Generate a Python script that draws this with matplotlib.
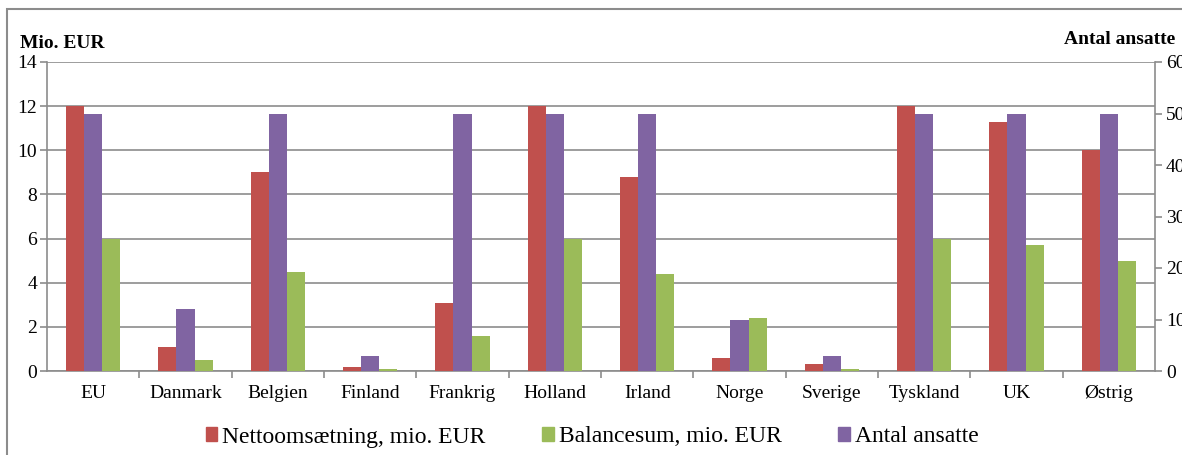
import matplotlib
matplotlib.use("Agg")
import matplotlib.pyplot as plt
import numpy as np
from matplotlib.patches import Rectangle, Patch

categories = ["EU", "Danmark", "Belgien", "Finland", "Frankrig", "Holland",
              "Irland", "Norge", "Sverige", "Tyskland", "UK", "Østrig"]
nettoomsaetning = [12, 1.1, 9, 0.2, 3.1, 12, 8.8, 0.6, 0.3, 12, 11.3, 10]
balancesum = [6, 0.5, 4.5, 0.1, 1.6, 6, 4.4, 2.4, 0.1, 6, 5.7, 5]
antal_ansatte = [50, 12, 50, 3, 50, 50, 50, 10, 3, 50, 50, 50]

series_labels = ["Nettoomsætning, mio. EUR", "Balancesum, mio. EUR", "Antal ansatte"]
colors = ["#C0504D", "#9BBB59", "#8064A2"]

plt.rcParams['font.family'] = ['Liberation Serif', 'DejaVu Serif']

W, H = 1182, 455
fig = plt.figure(figsize=(W / 100, H / 100), dpi=100)

# outer frame
fig.patches.append(Rectangle((7 / W, -0.1), 1.2, 1 - 9 / H + 0.1, transform=fig.transFigure,
                             fill=False, edgecolor="#8c8c8c", lw=1.5))

ax = fig.add_axes([47 / W, 1 - 371 / H, (1155 - 47) / W, (371 - 62) / H])
ax2 = ax.twinx()

x = np.arange(len(categories))
w = 0.195
ax.bar(x - w, nettoomsaetning, w, color=colors[0], zorder=3)
ax.bar(x + w, balancesum, w, color=colors[1], zorder=3)
ax2.bar(x, antal_ansatte, w, color=colors[2], zorder=3)

ax.set_xlim(-0.5, len(categories) - 0.5)
ax.set_ylim(0, 14)
ax.set_yticks(range(0, 15, 2))
ax2.set_ylim(0, 60)
ax2.set_yticks(range(0, 61, 10))

ax.yaxis.grid(True, color="#8c8c8c", lw=1.2, zorder=0)
ax.set_axisbelow(True)
ax2.patch.set_visible(False)

ax.set_xticks(np.arange(len(categories) - 1) + 0.5)
ax.set_xticklabels([])
ax.set_xticks(x, minor=True)
ax.set_xticklabels(categories, minor=True)
ax.tick_params(axis="x", which="minor", length=0, labelsize=14, pad=10)
ax.tick_params(axis="x", which="major", length=5, color="#8c8c8c", width=1.2)
ax.tick_params(axis="y", labelsize=14, length=5, color="#8c8c8c", width=1.2, pad=2)
ax2.tick_params(axis="y", labelsize=14, length=5, color="#8c8c8c", width=1.2, pad=3)

for a in (ax, ax2):
    a.spines["top"].set_visible(False)
    for s in ("left", "right", "bottom"):
        a.spines[s].set_color("#8c8c8c")
        a.spines[s].set_linewidth(1.2)
ax2.spines["left"].set_visible(False)
ax2.spines["bottom"].set_visible(False)
ax.spines["right"].set_visible(False)

fig.text(20 / W, 1 - 43 / H, "Mio. EUR", fontsize=14, fontweight="bold", va="center", ha="left")
fig.text(1175 / W, 1 - 40 / H, "Antal ansatte", fontsize=14, fontweight="bold", va="center", ha="right")

handles = [Patch(color=c) for c in colors]
fig.legend(handles, series_labels, loc="center", bbox_to_anchor=(592 / W, 1 - 437 / H),
           ncol=3, frameon=False, fontsize=17, handlelength=0.5, handleheight=0.5,
           handletextpad=0.2, columnspacing=2.4)

fig.savefig("out.png", dpi=100)
